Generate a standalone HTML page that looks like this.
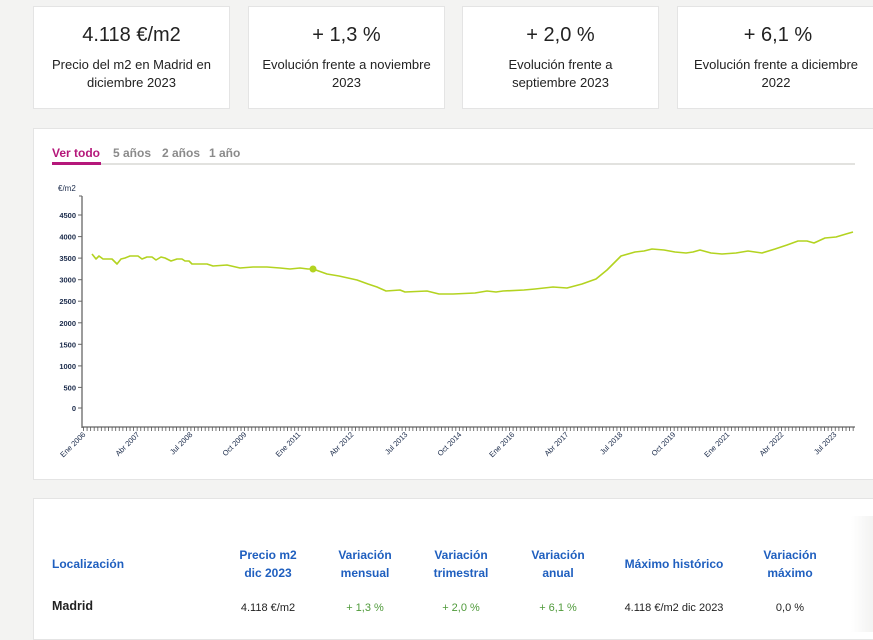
<!DOCTYPE html>
<html><head><meta charset="utf-8"><style>
body{margin:0;width:873px;height:632px;background:#f3f3f2;font-family:"Liberation Sans",sans-serif;overflow:hidden;position:relative}
.card{position:absolute;top:6px;height:101px;width:195px;background:#fff;border:1px solid #e4e4e4;text-align:center;color:#222}
.card .v{font-size:20px;margin-top:17px;height:24px}
.card .l{font-size:13px;line-height:18px;margin-top:8px;padding:0 14px}
.panel{position:absolute;background:#fff;border:1px solid #e4e4e4}
.tab{position:absolute;top:146px;font-size:12px;font-weight:bold;color:#8a8a8a}
.th{position:absolute;font-size:12px;font-weight:bold;color:#1f5fbf;text-align:center;line-height:18px;font-family:"Liberation Sans Narrow","Liberation Sans",sans-serif}
.td{position:absolute;top:602px;font-size:11px;color:#222;text-align:center;font-family:"Liberation Sans Narrow","Liberation Sans",sans-serif}
.g{color:#4f9a3a}
</style></head><body>
<div class="card" style="left:33px"><div class="v">4.118 €/m2</div><div class="l">Precio del m2 en Madrid en diciembre 2023</div></div>
<div class="card" style="left:248px"><div class="v">+ 1,3 %</div><div class="l" style="padding:0 4px">Evolución frente a noviembre 2023</div></div>
<div class="card" style="left:462px"><div class="v">+ 2,0 %</div><div class="l">Evolución frente a septiembre 2023</div></div>
<div class="card" style="left:677px;width:200px"><div class="v">+ 6,1 %</div><div class="l" style="padding:0 16px 0 12px">Evolución frente a diciembre 2022</div></div>

<div class="panel" style="left:33px;top:128px;width:845px;height:350px"></div>
<div class="tab" style="left:52px;color:#b5177a">Ver todo</div>
<div class="tab" style="left:113px">5 años</div>
<div class="tab" style="left:162px">2 años</div>
<div class="tab" style="left:209px">1 año</div>
<div style="position:absolute;left:52px;top:163px;width:803px;height:2px;background:#e2e2df"></div>
<div style="position:absolute;left:52px;top:162px;width:49px;height:3px;background:#b5177a"></div>

<svg style="position:absolute;left:0;top:0" width="873" height="632">
<defs><pattern id="tk" patternUnits="userSpaceOnUse" x="83" y="0" width="3.58" height="10"><line x1="0.5" y1="0" x2="0.5" y2="10" stroke="#555" stroke-width="0.8"/></pattern></defs>
<g font-family="Liberation Sans,sans-serif" font-size="7.5" fill="#1a2a4a" font-weight="bold" text-anchor="end">
<text x="58" y="191" text-anchor="start" font-weight="normal" font-size="8">€/m2</text>
<line x1="82" y1="196" x2="82" y2="428" stroke="#666" stroke-width="1.3"/>
<line x1="79" y1="196" x2="82" y2="196" stroke="#666"/>
<line x1="82" y1="427" x2="855" y2="427" stroke="#666" stroke-width="1.3"/>
<rect x="83" y="427" width="772" height="4" fill="url(#tk)"/>
<g stroke="#666"><line x1="78" y1="215" x2="82" y2="215"/><line x1="78" y1="236.6" x2="82" y2="236.6"/><line x1="78" y1="258.1" x2="82" y2="258.1"/><line x1="78" y1="279.7" x2="82" y2="279.7"/><line x1="78" y1="301.2" x2="82" y2="301.2"/><line x1="78" y1="322.8" x2="82" y2="322.8"/><line x1="78" y1="344.3" x2="82" y2="344.3"/><line x1="78" y1="365.9" x2="82" y2="365.9"/><line x1="78" y1="387.4" x2="82" y2="387.4"/><line x1="78" y1="408" x2="82" y2="408"/></g>
<text x="76" y="218">4500</text><text x="76" y="239.6">4000</text><text x="76" y="261.1">3500</text><text x="76" y="282.7">3000</text><text x="76" y="304.2">2500</text><text x="76" y="325.8">2000</text><text x="76" y="347.3">1500</text><text x="76" y="368.9">1000</text><text x="76" y="390.4">500</text><text x="76" y="411">0</text>
<g font-weight="normal" font-size="7.5">
<text transform="translate(86,435) rotate(-45)">Ene 2006</text>
<text transform="translate(140,435) rotate(-45)">Abr 2007</text>
<text transform="translate(193,435) rotate(-45)">Jul 2008</text>
<text transform="translate(247,435) rotate(-45)">Oct 2009</text>
<text transform="translate(301,435) rotate(-45)">Ene 2011</text>
<text transform="translate(354,435) rotate(-45)">Abr 2012</text>
<text transform="translate(408,435) rotate(-45)">Jul 2013</text>
<text transform="translate(462,435) rotate(-45)">Oct 2014</text>
<text transform="translate(515,435) rotate(-45)">Ene 2016</text>
<text transform="translate(569,435) rotate(-45)">Abr 2017</text>
<text transform="translate(623,435) rotate(-45)">Jul 2018</text>
<text transform="translate(676,435) rotate(-45)">Oct 2019</text>
<text transform="translate(730,435) rotate(-45)">Ene 2021</text>
<text transform="translate(784,435) rotate(-45)">Abr 2022</text>
<text transform="translate(837,435) rotate(-45)">Jul 2023</text>
</g></g>
<polyline fill="none" stroke="#b3d320" stroke-width="1.6" stroke-linejoin="round" points="92,254 96,259 99,256 103,259 112,259 117,264 121,259 125,258 130,256 138,256 142,259 147,257 152,257 156,260 161,257 165,258 171,261 177,259 182,259 185,261 189,261 192,264 207,264 213,266 227,265 240,268 253,267 267,267 280,268 290,269 300,268 308,269 313,269 327,274 339,276 357,280 368,284 377,287 386,291 400,290 405,292 427,291 439,294 453,294 475,293 487,291 496,292 503,291 524,290 535,289 553,287 567,288 582,284 596,279 607,270 621,256 635,252 644,251 652,249 664,250 675,252 686,253 693,252 700,250 711,253 722,254 736,253 748,251 762,253 775,249 787,245 798,241 807,241 814,243 825,238 836,237 846,234 853,232"/>
<circle cx="313" cy="269" r="3.5" fill="#b3d320"/>
</svg>

<div class="panel" style="left:33px;top:498px;width:845px;height:140px"></div>
<div style="position:absolute;left:851px;top:516px;width:22px;height:116px;background:linear-gradient(to right,#fff,#f3f3f2)"></div>
<div class="th" style="left:52px;top:555px;text-align:left">Localización</div>
<div class="th" style="left:228px;top:546px;width:80px">Precio m2<br>dic 2023</div>
<div class="th" style="left:325px;top:546px;width:80px">Variación<br>mensual</div>
<div class="th" style="left:421px;top:546px;width:80px">Variación<br>trimestral</div>
<div class="th" style="left:518px;top:546px;width:80px">Variación<br>anual</div>
<div class="th" style="left:614px;top:555px;width:120px">Máximo histórico</div>
<div class="th" style="left:750px;top:546px;width:80px">Variación<br>máximo</div>
<div class="td" style="left:52px;top:599px;font-size:12.5px;font-weight:bold;text-align:left">Madrid</div>
<div class="td" style="left:228px;width:80px">4.118 €/m2</div>
<div class="td g" style="left:325px;width:80px">+ 1,3 %</div>
<div class="td g" style="left:421px;width:80px">+ 2,0 %</div>
<div class="td g" style="left:518px;width:80px">+ 6,1 %</div>
<div class="td" style="left:614px;width:120px">4.118 €/m2 dic 2023</div>
<div class="td" style="left:750px;width:80px">0,0 %</div>
</body></html>
